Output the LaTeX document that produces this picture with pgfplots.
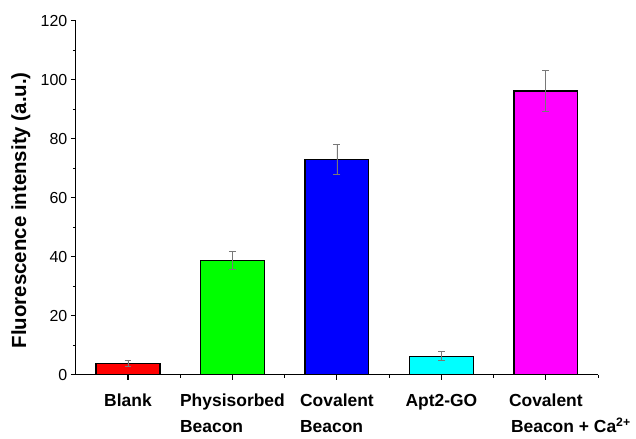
\documentclass[border=0pt]{standalone}
\usepackage{pgfplots}
\pgfplotsset{compat=1.18}
\usepackage{fontspec}
\setmainfont{Liberation Sans}
\definecolor{cRed}{RGB}{255,0,0}
\definecolor{cGreen}{RGB}{0,255,0}
\definecolor{cBlue}{RGB}{0,0,255}
\definecolor{cCyan}{RGB}{0,255,255}
\definecolor{cMag}{RGB}{255,0,255}
\definecolor{errgray}{RGB}{120,120,120}
\begin{document}
\begin{tikzpicture}
\begin{axis}[
  name=main,
  scale only axis, width=524pt, height=355pt,
  xmin=-0.5, xmax=4.5, ymin=0, ymax=120,
  axis lines=left, axis line style={-, line width=1.1pt},
  ybar, bar width=64pt, bar shift=0pt,
  xtick={0,1,2,3,4},
  xticklabels={Blank, Physisorbed\\Beacon, Covalent\\Beacon, Apt2-GO, Covalent\\\rlap{\hspace{2pt}Beacon + Ca\textsuperscript{2+}}},
  minor xtick={0.5,1.5,2.5,3.5,4.5},
  ytick={0,20,...,120}, minor ytick={10,30,...,110},
  tick align=outside, major tick length=5pt, minor tick length=3pt,
  tick style={black, line width=1.1pt},
  xticklabel style={font=\fontsize{17.5}{26}\selectfont\bfseries, align=left, anchor=north, yshift=-11pt},
  yticklabel style={font=\fontsize{16}{18}\selectfont},
  /pgf/number format/assume math mode=true,
  ylabel={Fluorescence intensity (a.u.)},
  ylabel style={font=\fontsize{20.5}{22}\selectfont\bfseries, at={(axis description cs:-0.105,0.465)}, anchor=center},
  every axis plot/.append style={draw=black, line width=1.3pt},
  error bars/y dir=both, error bars/y explicit,
  error bars/error bar style={errgray, line width=0.8pt},
  error bars/error mark options={rotate=90, mark size=3.5pt, errgray, line width=0.8pt},
]
\addplot[fill=cRed] coordinates {(0,3.8) +- (0,1.0)};
\addplot[fill=cGreen] coordinates {(1,38.7) +- (0,3.0)};
\addplot[fill=cBlue] coordinates {(2,73.0) +- (0,5.0)};
\addplot[fill=cCyan] coordinates {(3,6.3) +- (0,1.5)};
\addplot[fill=cMag] coordinates {(4,96.2) +- (0,7.0)};
\end{axis}
\pgfresetboundingbox
\path[use as bounding box] ([shift={(-76pt,-64pt)}]main.south west) rectangle ([shift={(562pt,376pt)}]main.south west);
\end{tikzpicture}
\end{document}
